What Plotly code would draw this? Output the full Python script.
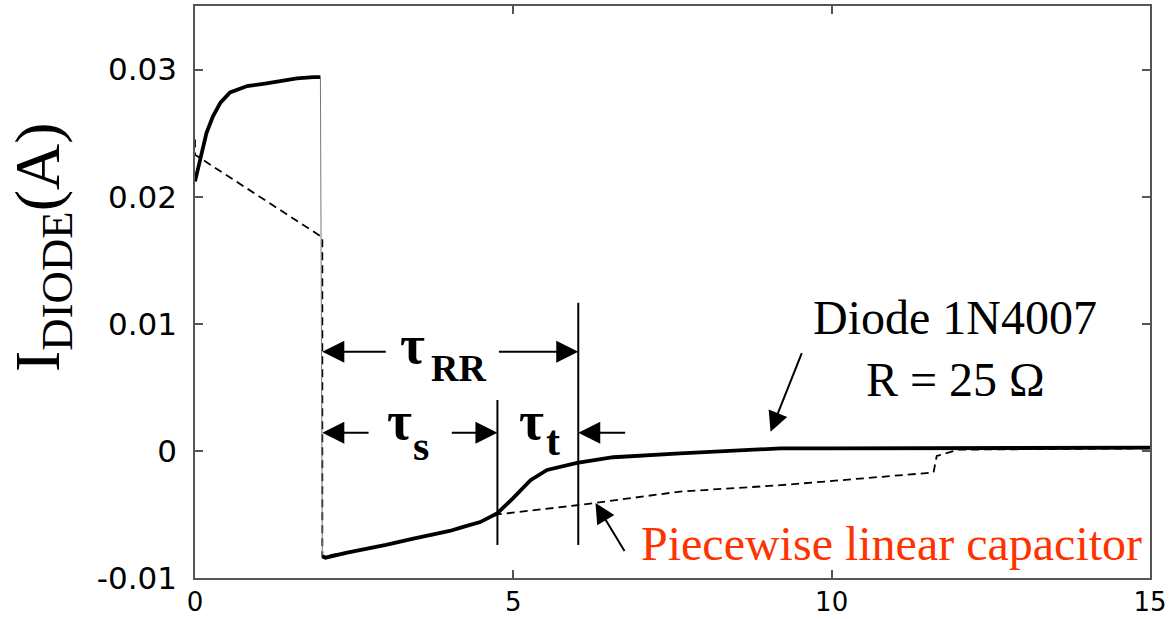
import plotly.graph_objects as go

# ---- data ----
# measured diode current, forward-conduction part
t_fwd = [0.0, 0.08, 0.18, 0.28, 0.40, 0.55, 0.82, 1.10, 1.34, 1.60, 1.86, 1.97]
i_fwd = [0.0212, 0.0229, 0.0250, 0.0263, 0.0274, 0.0282, 0.0287, 0.0289, 0.0291, 0.0293, 0.0294, 0.0294]
# measured diode current, reverse-recovery part
t_rev = [2.00, 2.05, 2.39, 3.00, 3.43, 4.00, 4.20, 4.48, 4.75, 5.00, 5.27, 5.53, 6.00,
         6.57, 7.62, 9.20, 10.0, 12.3, 15.0]
i_rev = [-0.0083, -0.0084, -0.0080, -0.0074, -0.0069, -0.0063, -0.0060, -0.0056, -0.0049,
         -0.0037, -0.0023, -0.0015, -0.00095, -0.0005, -0.0002, 0.0002, 0.0002, 0.0002, 0.00025]
# piecewise linear capacitor model
t_mod = [0.0, 0.0, 2.0, 2.0, 2.39, 3.00, 3.43, 4.00, 4.48, 4.75, 6.05, 7.62, 9.20, 11.60,
         11.65, 12.0, 15.0]
i_mod = [0.0245, 0.0233, 0.0168, -0.0083, -0.0080, -0.0074, -0.0069, -0.0063, -0.0056,
         -0.0050, -0.00425, -0.0032, -0.0027, -0.0017, -0.0004, 0.0001, 0.0002]

x_ticks = [0, 5, 10, 15]
y_ticks = [-0.01, 0, 0.01, 0.02, 0.03]
y_tick_text = ["-0.01", "0", "0.01", "0.02", "0.03"]

# time markers of the recovery intervals
t_marks = [4.75, 6.02]
mark_tops = [0.0040, 0.01165]
mark_bottom = -0.0074

fig = go.Figure()

fig.add_trace(go.Scatter(x=t_mod, y=i_mod, mode="lines",
                         line=dict(color="black", width=1.8, dash="8px,5px"),
                         hoverinfo="skip", showlegend=False))
fig.add_trace(go.Scatter(x=t_fwd, y=i_fwd, mode="lines",
                         line=dict(color="black", width=3.8),
                         hoverinfo="skip", showlegend=False))
fig.add_trace(go.Scatter(x=[t_fwd[-1], t_rev[0]], y=[i_fwd[-1], i_rev[0]], mode="lines",
                         line=dict(color="#777777", width=1),
                         hoverinfo="skip", showlegend=False))
fig.add_trace(go.Scatter(x=t_rev, y=i_rev, mode="lines",
                         line=dict(color="black", width=3.8),
                         hoverinfo="skip", showlegend=False))

for tm, top in zip(t_marks, mark_tops):
    fig.add_shape(type="line", x0=tm, x1=tm, y0=mark_bottom, y1=top, xref="x", yref="y",
                  line=dict(color="black", width=2))

annotations = []

def arrow(tip_x, tip_y, tail_x, tail_y, size=2.2, width=2):
    annotations.append(dict(x=tip_x, y=tip_y, ax=tail_x, ay=tail_y, xref="x", yref="y",
                            axref="x", ayref="y", text="", showarrow=True, arrowhead=2,
                            arrowsize=size, arrowwidth=width, arrowcolor="black",
                            standoff=0, startstandoff=0))

y_rr = 0.0078
y_st = 0.00142
arrow(2.0, y_rr, 3.02, y_rr)
arrow(6.02, y_rr, 4.75, y_rr)
arrow(2.0, y_st, 2.75, y_st)
arrow(4.75, y_st, 4.01, y_st)
arrow(6.02, y_st, 6.78, y_st)
arrow(9.04, 0.0015, 9.54, 0.0078, size=2.0, width=2)
arrow(6.29, -0.0041, 6.76, -0.0080, size=2.0, width=2)

def text(xp, yp, s, size, color="black", bold=False):
    annotations.append(dict(x=(xp - 195) / (955 / 15), y=(451 - yp) / 12700.0,
                            xref="x", yref="y", text=("<b>%s</b>" % s) if bold else s,
                            showarrow=False, xanchor="center", yanchor="middle",
                            font=dict(family="Liberation Serif", size=size, color=color)))

text(412, 345, "τ", 54, bold=True)
text(458, 368, "RR", 38, bold=True)
text(399, 421, "τ", 54, bold=True)
text(421, 446, "s", 42, bold=True)
text(531, 421, "τ", 54, bold=True)
text(553, 441, "t", 42, bold=True)
text(955, 318, "Diode 1N4007", 48)
text(955, 380, "R = 25 Ω", 48)
text(891, 544, "Piecewise linear capacitor", 48, color="#FF3300")

# y-axis title
annotations.append(dict(xref="paper", yref="paper", x=0, y=(578 - 247) / 572.0,
                        xshift=-153, text="I<sub>DIODE</sub>(A)", textangle=-90,
                        showarrow=False, xanchor="center", yanchor="middle",
                        font=dict(family="Liberation Serif", size=64, color="black")))

axis_common = dict(showline=True, linecolor="#555555", linewidth=1.5, mirror="ticks",
                   ticks="inside", ticklen=8, tickwidth=1.5, tickcolor="#555555",
                   showgrid=False, zeroline=False, automargin=False)

fig.update_layout(
    width=1174, height=619,
    margin=dict(l=195, r=24, t=6, b=41),
    plot_bgcolor="white", paper_bgcolor="white",
    xaxis=dict(range=[0, 15], tickvals=x_ticks, ticklabelstandoff=0,
               tickfont=dict(family="DejaVu Sans", size=26, color="black"), **axis_common),
    yaxis=dict(range=[-0.01, 0.035], tickvals=y_ticks, ticktext=y_tick_text,
               ticklabelstandoff=10,
               tickfont=dict(family="DejaVu Sans", size=31, color="black"), **axis_common),
    annotations=annotations,
    showlegend=False,
)

fig.write_html("out.html")
